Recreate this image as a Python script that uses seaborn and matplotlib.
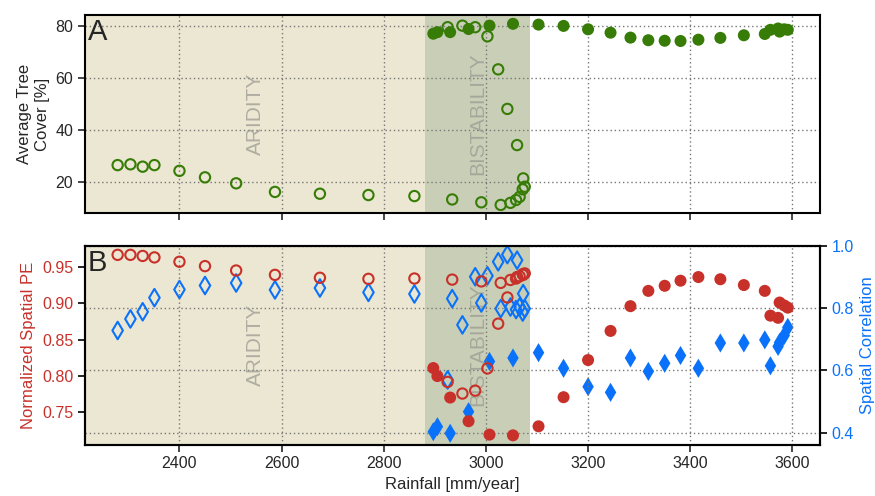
import numpy as np
import pandas as pd
import matplotlib
matplotlib.use("Agg")
import matplotlib.pyplot as plt
import seaborn as sns

# data
# open markers (lower branch run)
rain_open = [2279, 2304, 2328, 2351, 2400, 2450, 2511, 2587, 2675, 2770, 2860,
             2934, 2991, 3029, 3048, 3059, 3066, 3072, 3076, 3073, 3061, 3042,
             3024, 3003, 2979, 2954, 2925]
cover_open = [26.5, 26.8, 25.9, 26.5, 24.3, 21.8, 19.5, 16.2, 15.5, 15.0, 14.6,
              13.3, 12.2, 11.2, 12.0, 13.1, 14.3, 17.2, 18.2, 21.4, 34.2, 48.1,
              63.3, 76.0, 79.5, 80.1, 79.5]
pe_open = [0.9665, 0.9665, 0.965, 0.963, 0.957, 0.951, 0.945, 0.939, 0.935, 0.9335,
           0.934, 0.9325, 0.930, 0.928, 0.932, 0.934, 0.937, 0.940, 0.941, 0.939,
           0.936, 0.908, 0.872, 0.8105, 0.780, 0.776, 0.792]
corr_open = [0.728, 0.765, 0.788, 0.833, 0.859, 0.872, 0.880, 0.858, 0.864, 0.850,
             0.845, 0.830, 0.816, 0.798, 0.803, 0.795, 0.803, 0.787, 0.798, 0.846,
             0.953, 0.971, 0.948, 0.903, 0.900, 0.746, 0.570]

# filled markers (forest branch run)
rain_filled = [2897, 2905, 2930, 2966, 3007, 3053, 3103, 3152, 3200, 3244, 3283,
               3318, 3350, 3381, 3416, 3459, 3505, 3546, 3557, 3572, 3575, 3584, 3591]
cover_filled = [77.0, 77.6, 77.6, 78.8, 80.1, 80.8, 80.5, 80.0, 78.7, 77.4, 75.5,
                74.5, 74.3, 74.2, 74.7, 75.4, 76.4, 76.9, 78.5, 79.0, 77.8, 78.7, 78.5]
pe_filled = [0.811, 0.800, 0.7705, 0.738, 0.7196, 0.7186, 0.731, 0.771, 0.822, 0.862,
             0.896, 0.917, 0.924, 0.931, 0.936, 0.933, 0.925, 0.917, 0.883, 0.880,
             0.901, 0.897, 0.894]
corr_filled = [0.404, 0.420, 0.399, 0.468, 0.629, 0.640, 0.657, 0.607, 0.548, 0.530,
               0.640, 0.597, 0.623, 0.648, 0.607, 0.688, 0.688, 0.698, 0.615, 0.677,
               0.690, 0.712, 0.738]

# regime boundaries
aridity_end = 2881
bistability_end = 3086

df_open = pd.DataFrame({"rain": rain_open, "cover": cover_open, "pe": pe_open, "corr": corr_open})
df_filled = pd.DataFrame({"rain": rain_filled, "cover": cover_filled, "pe": pe_filled, "corr": corr_filled})

GREEN = "#367c06"
RED = "#c8312a"
BLUE = "#0a72fa"
ARID_C = "#ece7d2"
BIST_C = "#c9cfb7"

sns.set_style("ticks")
plt.rcParams["font.family"] = ["Liberation Sans", "DejaVu Sans"]

xlim = (2215, 3654)

fig = plt.figure(figsize=(8.75, 4.96), dpi=100)
axA = fig.add_axes([0.0971, 0.5706, 0.8400, 0.3992])
axB = fig.add_axes([0.0971, 0.1038, 0.8400, 0.4012])
axB2 = axB.twinx()

grid_kw = dict(color="#777777", linestyle=(0, (1, 2)), linewidth=1.0)


def shade(ax, ytext):
    ax.axvspan(xlim[0] - 50, aridity_end, color=ARID_C, zorder=0, lw=0)
    ax.axvspan(aridity_end, bistability_end, color=BIST_C, zorder=0, lw=0)
    ax.text((xlim[0] + aridity_end) / 2, ytext, "ARIDITY", rotation=90, ha="center",
            va="center", fontsize=15, color="#9a9a92", alpha=0.75,
            transform=ax.get_xaxis_transform(), zorder=1)
    ax.text((aridity_end + bistability_end) / 2, ytext, "BISTABILITY", rotation=90,
            ha="center", va="center", fontsize=15, color="#9a9a92", alpha=0.75,
            transform=ax.get_xaxis_transform(), zorder=1)


# Panel A
shade(axA, 0.5)
axA.grid(True, **grid_kw)
axA.set_axisbelow(True)
sns.scatterplot(data=df_open, x="rain", y="cover", ax=axA, marker="o", s=55,
                facecolor="none", edgecolor=GREEN, linewidth=1.5, zorder=3)
sns.scatterplot(data=df_filled, x="rain", y="cover", ax=axA, marker="o", s=75,
                color=GREEN, edgecolor="none", linewidth=0, zorder=3)
axA.set_xlim(*xlim)
axA.set_ylim(8.1, 84.2)
axA.set_yticks([20, 40, 60, 80])
axA.set_xticks([2400, 2600, 2800, 3000, 3200, 3400, 3600])
axA.set_xticklabels([])
axA.set_xlabel("")
axA.set_ylabel("Average Tree\nCover [%]", fontsize=12)
axA.text(0.004, 0.985, "A", transform=axA.transAxes, ha="left", va="top", fontsize=21)

# Panel B: correlation (right axis) below, PE (left axis) on top
shade(axB2, 0.5)
axB2.grid(True, axis="y", **grid_kw)
axB.grid(True, axis="x", **grid_kw)
sns.scatterplot(data=df_open, x="rain", y="corr", ax=axB2, marker="d", s=80,
                facecolor="none", edgecolor=BLUE, linewidth=1.5, zorder=3)
sns.scatterplot(data=df_filled, x="rain", y="corr", ax=axB2, marker="d", s=95,
                color=BLUE, edgecolor="none", linewidth=0, zorder=3)
sns.scatterplot(data=df_open, x="rain", y="pe", ax=axB, marker="o", s=55,
                facecolor="none", edgecolor=RED, linewidth=1.5, zorder=3)
sns.scatterplot(data=df_filled, x="rain", y="pe", ax=axB, marker="o", s=75,
                color=RED, edgecolor="none", linewidth=0, zorder=3)
axB.set_zorder(axB2.get_zorder() + 1)
axB.patch.set_visible(False)

axB.set_xlim(*xlim)
axB.set_ylim(0.706, 0.9793)
axB.set_yticks([0.75, 0.80, 0.85, 0.90, 0.95])
axB.set_yticklabels(["0.75", "0.80", "0.85", "0.90", "0.95"])
axB.set_xticks([2400, 2600, 2800, 3000, 3200, 3400, 3600])
axB2.set_ylim(0.363, 1.0)
axB2.set_yticks([0.4, 0.6, 0.8, 1.0])
axB.set_xlabel("Rainfall [mm/year]", fontsize=12)
axB.set_ylabel("Normalized Spatial PE", fontsize=12, color=RED)
axB2.set_ylabel("Spatial Correlation", fontsize=12, color=BLUE)
axB.tick_params(axis="y", colors=RED, labelcolor=RED)
axB2.tick_params(axis="y", colors="black", labelcolor=BLUE)
axB.text(0.004, 0.985, "B", transform=axB.transAxes, ha="left", va="top", fontsize=21)

for ax in (axA, axB, axB2):
    ax.tick_params(direction="out", length=5, width=1.2, labelsize=11.5)
    for sp in ax.spines.values():
        sp.set_linewidth(1.5)
        sp.set_color("black")
axB.tick_params(axis="y", colors="black", labelcolor=RED)

fig.savefig("out.png", dpi=100)
